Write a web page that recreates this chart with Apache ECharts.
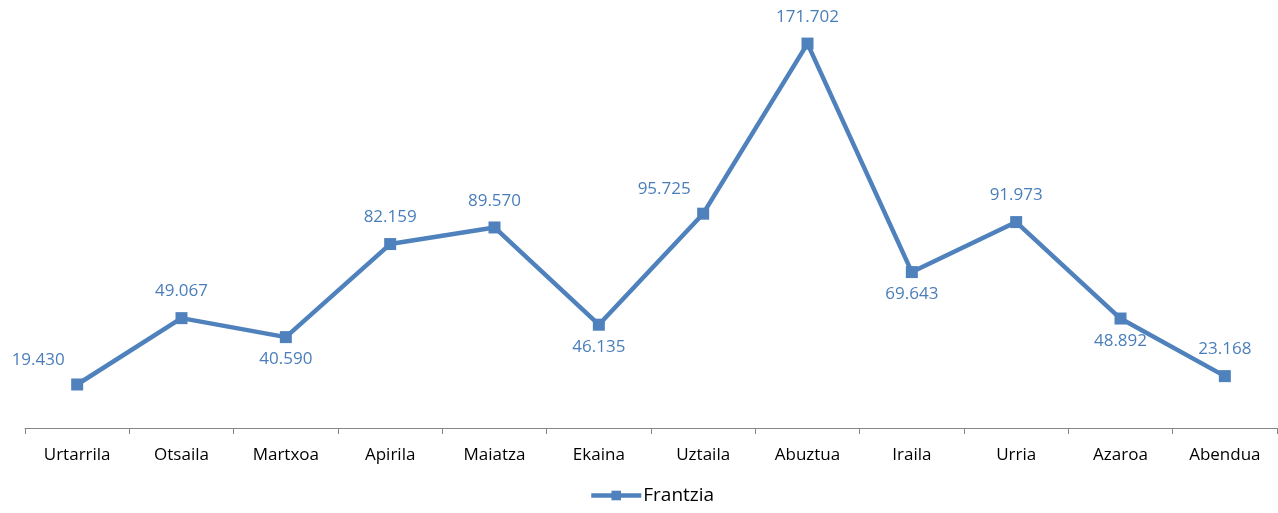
<!DOCTYPE html>
<html>
<head>
<meta charset="utf-8">
<script src="https://cdn.jsdelivr.net/npm/echarts@6/dist/echarts.min.js"></script>
<style>
html,body{margin:0;padding:0;background:#fff;}
#main{width:1278px;height:513px;}
</style>
</head>
<body>
<div id="main"></div>
<script>
// hilabeteak
var months = ['Urtarrila','Otsaila','Martxoa','Apirila','Maiatza','Ekaina','Uztaila','Abuztua','Iraila','Urria','Azaroa','Abendua'];
// Frantzia (milakoak)
var frantzia = [19.430, 49.067, 40.590, 82.159, 89.570, 46.135, 95.725, 171.702, 69.643, 91.973, 48.892, 23.168];
var labelSide = ['upleft','top','bottom','top','top','bottom','upleft','top','bottom','top','bottom','top'];

var blue = '#4F81BD';

var fmt = function(v){ return v.toFixed(3); };

var seriesData = frantzia.map(function(v, i){
    var side = labelSide[i];
    var lbl = {};
    if(side === 'bottom'){
        lbl = {position:'bottom', distance:8};
    }else if(side === 'upleft'){
        lbl = {position:'top', distance:10, offset:[-39, 0]};
    }else{
        lbl = {position:'top', distance:12};
    }
    return {value:v, label:lbl};
});

var chart = echarts.init(document.getElementById('main'));
chart.setOption({
    animation:false,
    grid:{left:25, right:1, top:25, bottom:85},
    legend:{
        bottom:3, left:584,
        itemWidth:50, itemHeight:12, itemGap:4,
        lineStyle:{width:4.5},
        textStyle:{fontFamily:'Open Sans', fontSize:19, color:'#000', padding:[0,0,0,-3]},
        data:['Frantzia']
    },
    xAxis:{
        type:'category',
        data:months,
        boundaryGap:true,
        axisLine:{lineStyle:{color:'#868686', width:1}},
        axisTick:{show:true, length:6, lineStyle:{color:'#868686'}},
        axisLabel:{color:'#000', fontFamily:'Open Sans', fontSize:17, margin:19}
    },
    yAxis:{
        type:'value', min:0, max:180, show:false,
        splitLine:{show:false}
    },
    series:[{
        name:'Frantzia',
        type:'line',
        data:seriesData,
        symbol:'rect',
        symbolSize:12,
        itemStyle:{color:blue},
        lineStyle:{color:blue, width:4.5},
        label:{
            show:true,
            color:'#4A7EBB',
            fontFamily:'Open Sans',
            fontSize:17,
            formatter:function(p){ return fmt(p.value); }
        }
    }]
});
</script>
</body>
</html>
